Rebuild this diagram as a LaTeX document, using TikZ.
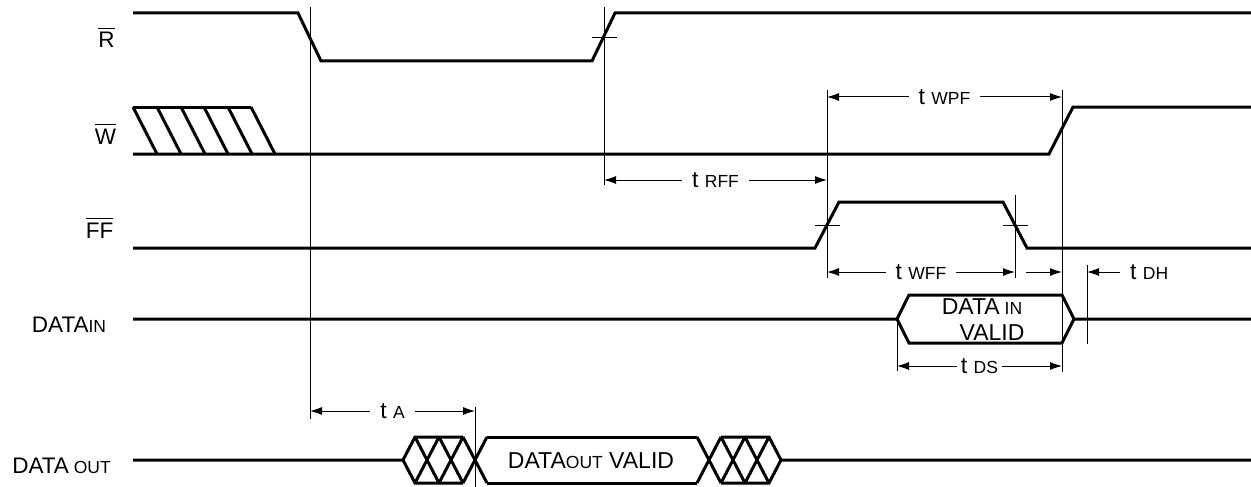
\documentclass[tikz,border=0pt]{standalone}
\usepackage{fontspec}
\setmainfont{Liberation Sans}
\usetikzlibrary{arrows.meta}
\newcommand\ovlbar[1]{\vbox{\hrule height 1pt\kern 3.5pt\hbox{#1}}}
\newcommand\subtxt[1]{{\fontsize{17.5}{17.5}\selectfont #1}}
\begin{document}
\begin{tikzpicture}[x=1pt,y=-1pt,
  sig/.style={line width=3pt},
  thin/.style={line width=1pt},
  dimboth/.style={line width=1pt,{Latex[length=12pt,width=8pt]}-{Latex[length=12pt,width=8pt]}},
  dimright/.style={line width=1pt,-{Latex[length=12pt,width=8pt]}},
  tlbl/.style={font=\fontsize{23}{23}\selectfont, fill=white, inner xsep=10pt, inner ysep=1pt},
  siglbl/.style={font=\fontsize{22.5}{22.5}\selectfont, anchor=base, inner sep=0pt},
  intxt/.style={font=\fontsize{23}{23}\selectfont, anchor=base, inner sep=0pt}
]
\useasboundingbox (0,0) rectangle (1251,487);

% signal names
\node[siglbl] (nR) at (106.5,48) {\ovlbar{R}};
\node[siglbl] (nW) at (105.5,144) {\ovlbar{W}};
\node[siglbl] (nFF) at (99.5,238) {\ovlbar{FF}};
\node[siglbl] (nDI) at (69,332) {DATA\subtxt{IN}};
\node[siglbl] (nDO) at (61.5,473) {DATA\subtxt{ OUT}};

% R
\draw[sig] (133,13) -- (298,13) -- (321,61) -- (592,61) -- (615,13) -- (1251,13);
% W
\draw[sig] (133,107) -- (251,107);
\foreach \x in {133,157,181,204,228,251} \draw[sig] (\x,107) -- ++(24,47);
\draw[sig] (133,154) -- (1049,154) -- (1073,107) -- (1251,107);
% FF
\draw[sig] (133,248) -- (815,248) -- (839,202) -- (1003,202) -- (1027,248) -- (1251,248);
% DATA IN
\draw[sig] (133,319) -- (897,319) -- (909,295) -- (1062,295) -- (1074,319) -- (1251,319);
\draw[sig] (897,319) -- (909,343) -- (1062,343) -- (1074,319);
% DATA OUT
\draw[sig] (133,460) -- (403,460) -- (415,437) -- (463,437);
\draw[sig] (403,460) -- (415,483) -- (463,483);
\foreach \c in {427,451,475} {
  \draw[sig] (\c-12,437) -- (\c+12,483);
  \draw[sig] (\c-12,483) -- (\c+12,437);
}
\draw[sig] (487,437) -- (697,437);
\draw[sig] (487,483) -- (697,483);
\foreach \c in {709,733,757} {
  \draw[sig] (\c-12,437) -- (\c+12,483);
  \draw[sig] (\c-12,483) -- (\c+12,437);
}
\draw[sig] (721,437) -- (769,437) -- (781,460) -- (1251,460);
\draw[sig] (721,483) -- (769,483) -- (781,460);

% inner texts
\node[intxt] (tdi) at (982,314) {DATA\subtxt{ IN}};
\node[intxt] (tdv) at (992,340) {VALID};
\node[intxt] (tdo) at (591,468) {DATA\subtxt{OUT} VALID};

% vertical reference lines
\draw[thin] (310,7) -- (310,419);
\draw[thin] (604,7) -- (604,185);
\draw[thin] (827,90) -- (827,278);
\draw[thin] (1062,90) -- (1062,372);
\draw[thin] (1015,195) -- (1015,278);
\draw[thin] (1087,265) -- (1087,344);
\draw[thin] (897,319) -- (897,371);
\draw[thin] (475,407) -- (475,487);
% ticks
\draw[thin] (592,38) -- (617,38);
\draw[thin] (815,225) -- (840,225);
\draw[thin] (1003,225) -- (1028,225);

% timing arrows
\coordinate (wpfA) at (827,97); \coordinate (wpfB) at (1062,97);
\draw[dimboth] (wpfA) -- (wpfB) node[midway,tlbl] (lwpf) {t \subtxt{WPF}};
\coordinate (rffA) at (604,180); \coordinate (rffB) at (827,180);
\draw[dimboth] (rffA) -- (rffB) node[midway,tlbl] (lrff) {t \subtxt{RFF}};
\coordinate (wffA) at (827,272); \coordinate (wffB) at (1015,272);
\draw[dimboth] (wffA) -- (wffB) node[midway,tlbl] (lwff) {t \subtxt{WFF}};
\coordinate (shA) at (1026,272); \coordinate (shB) at (1062,272);
\draw[dimright] (shA) -- (shB);
\coordinate (dhA) at (1120,272); \coordinate (dhB) at (1087,272);
\draw[dimright] (dhA) -- (dhB);
\node[font=\fontsize{23}{23}\selectfont, anchor=west, inner sep=0pt] (ldh) at (1130,272) {t \subtxt{DH}};
\coordinate (dsA) at (897,366); \coordinate (dsB) at (1062,366);
\draw[dimboth] (dsA) -- (dsB) node[midway,tlbl,inner xsep=4pt] (lds) {t \subtxt{DS}};
\coordinate (taA) at (310,411); \coordinate (taB) at (475,411);
\draw[dimboth] (taA) -- (taB) node[midway,tlbl] (lta) {t \subtxt{A}};
\end{tikzpicture}
\end{document}
